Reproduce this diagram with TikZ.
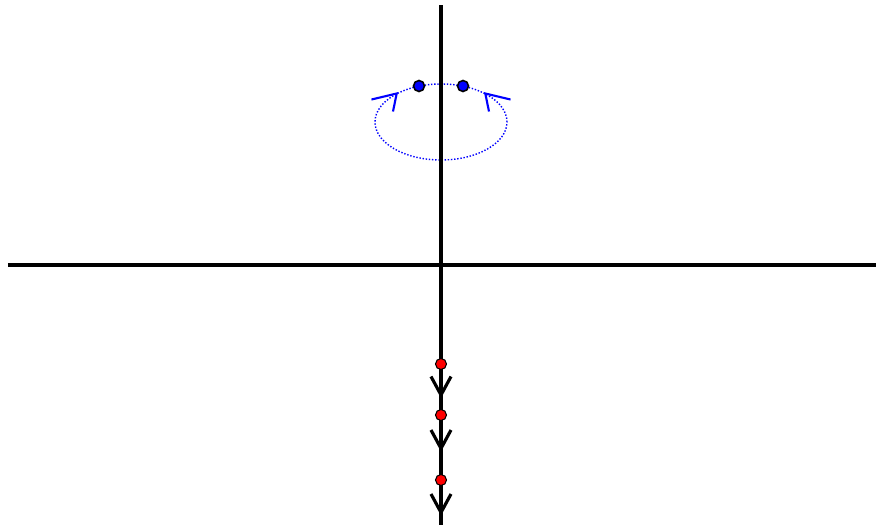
\documentclass[tikz,border=0pt]{standalone}
\begin{document}
\begin{tikzpicture}[>=stealth]
  \useasboundingbox (-8.82,-5.2) rectangle (8.7,5.3);
  \coordinate (W) at (-8.66,0);
  \coordinate (E) at (8.7,0);
  \coordinate (N) at (0,5.2);
  \coordinate (S) at (0,-5.2);
  \coordinate (O1) at (0,2.86);
  \coordinate (P1) at (-0.44,3.58);
  \coordinate (P2) at (0.44,3.58);
  \coordinate (T1) at (-0.886,3.43);
  \coordinate (T2) at (0.886,3.43);
  \coordinate (R1) at (0,-1.98);
  \coordinate (R2) at (0,-3.0);
  \coordinate (R3) at (0,-4.3);
  
  \draw[blue, dash pattern=on 0.8pt off 1pt, line width=0.8pt] (O1) ellipse (1.32 and 0.76);
  \draw[blue, line width=1.2pt] (-1.39,3.31) -- (T1) -- (-0.96,3.07);
  \draw[blue, line width=1.2pt] (1.39,3.31) -- (T2) -- (0.96,3.07);
  
  \draw[line width=1.8pt] (W) -- (E);
  \draw[line width=1.8pt] (N) -- (S);
  
  \foreach \t in {2.6, 3.67, 4.95}
    \draw[line width=1.8pt] (-0.2,-\t+0.37) -- (0,-\t) -- (0.2,-\t+0.37);
  
  \filldraw[fill=blue, draw=black, line width=0.9pt] (P1) circle (0.11);
  \filldraw[fill=blue, draw=black, line width=0.9pt] (P2) circle (0.11);
  \filldraw[fill=red, draw=black, line width=0.6pt] (R1) circle (0.11);
  \filldraw[fill=red, draw=black, line width=0.6pt] (R2) circle (0.11);
  \filldraw[fill=red, draw=black, line width=0.6pt] (R3) circle (0.11);
\end{tikzpicture}
\end{document}
